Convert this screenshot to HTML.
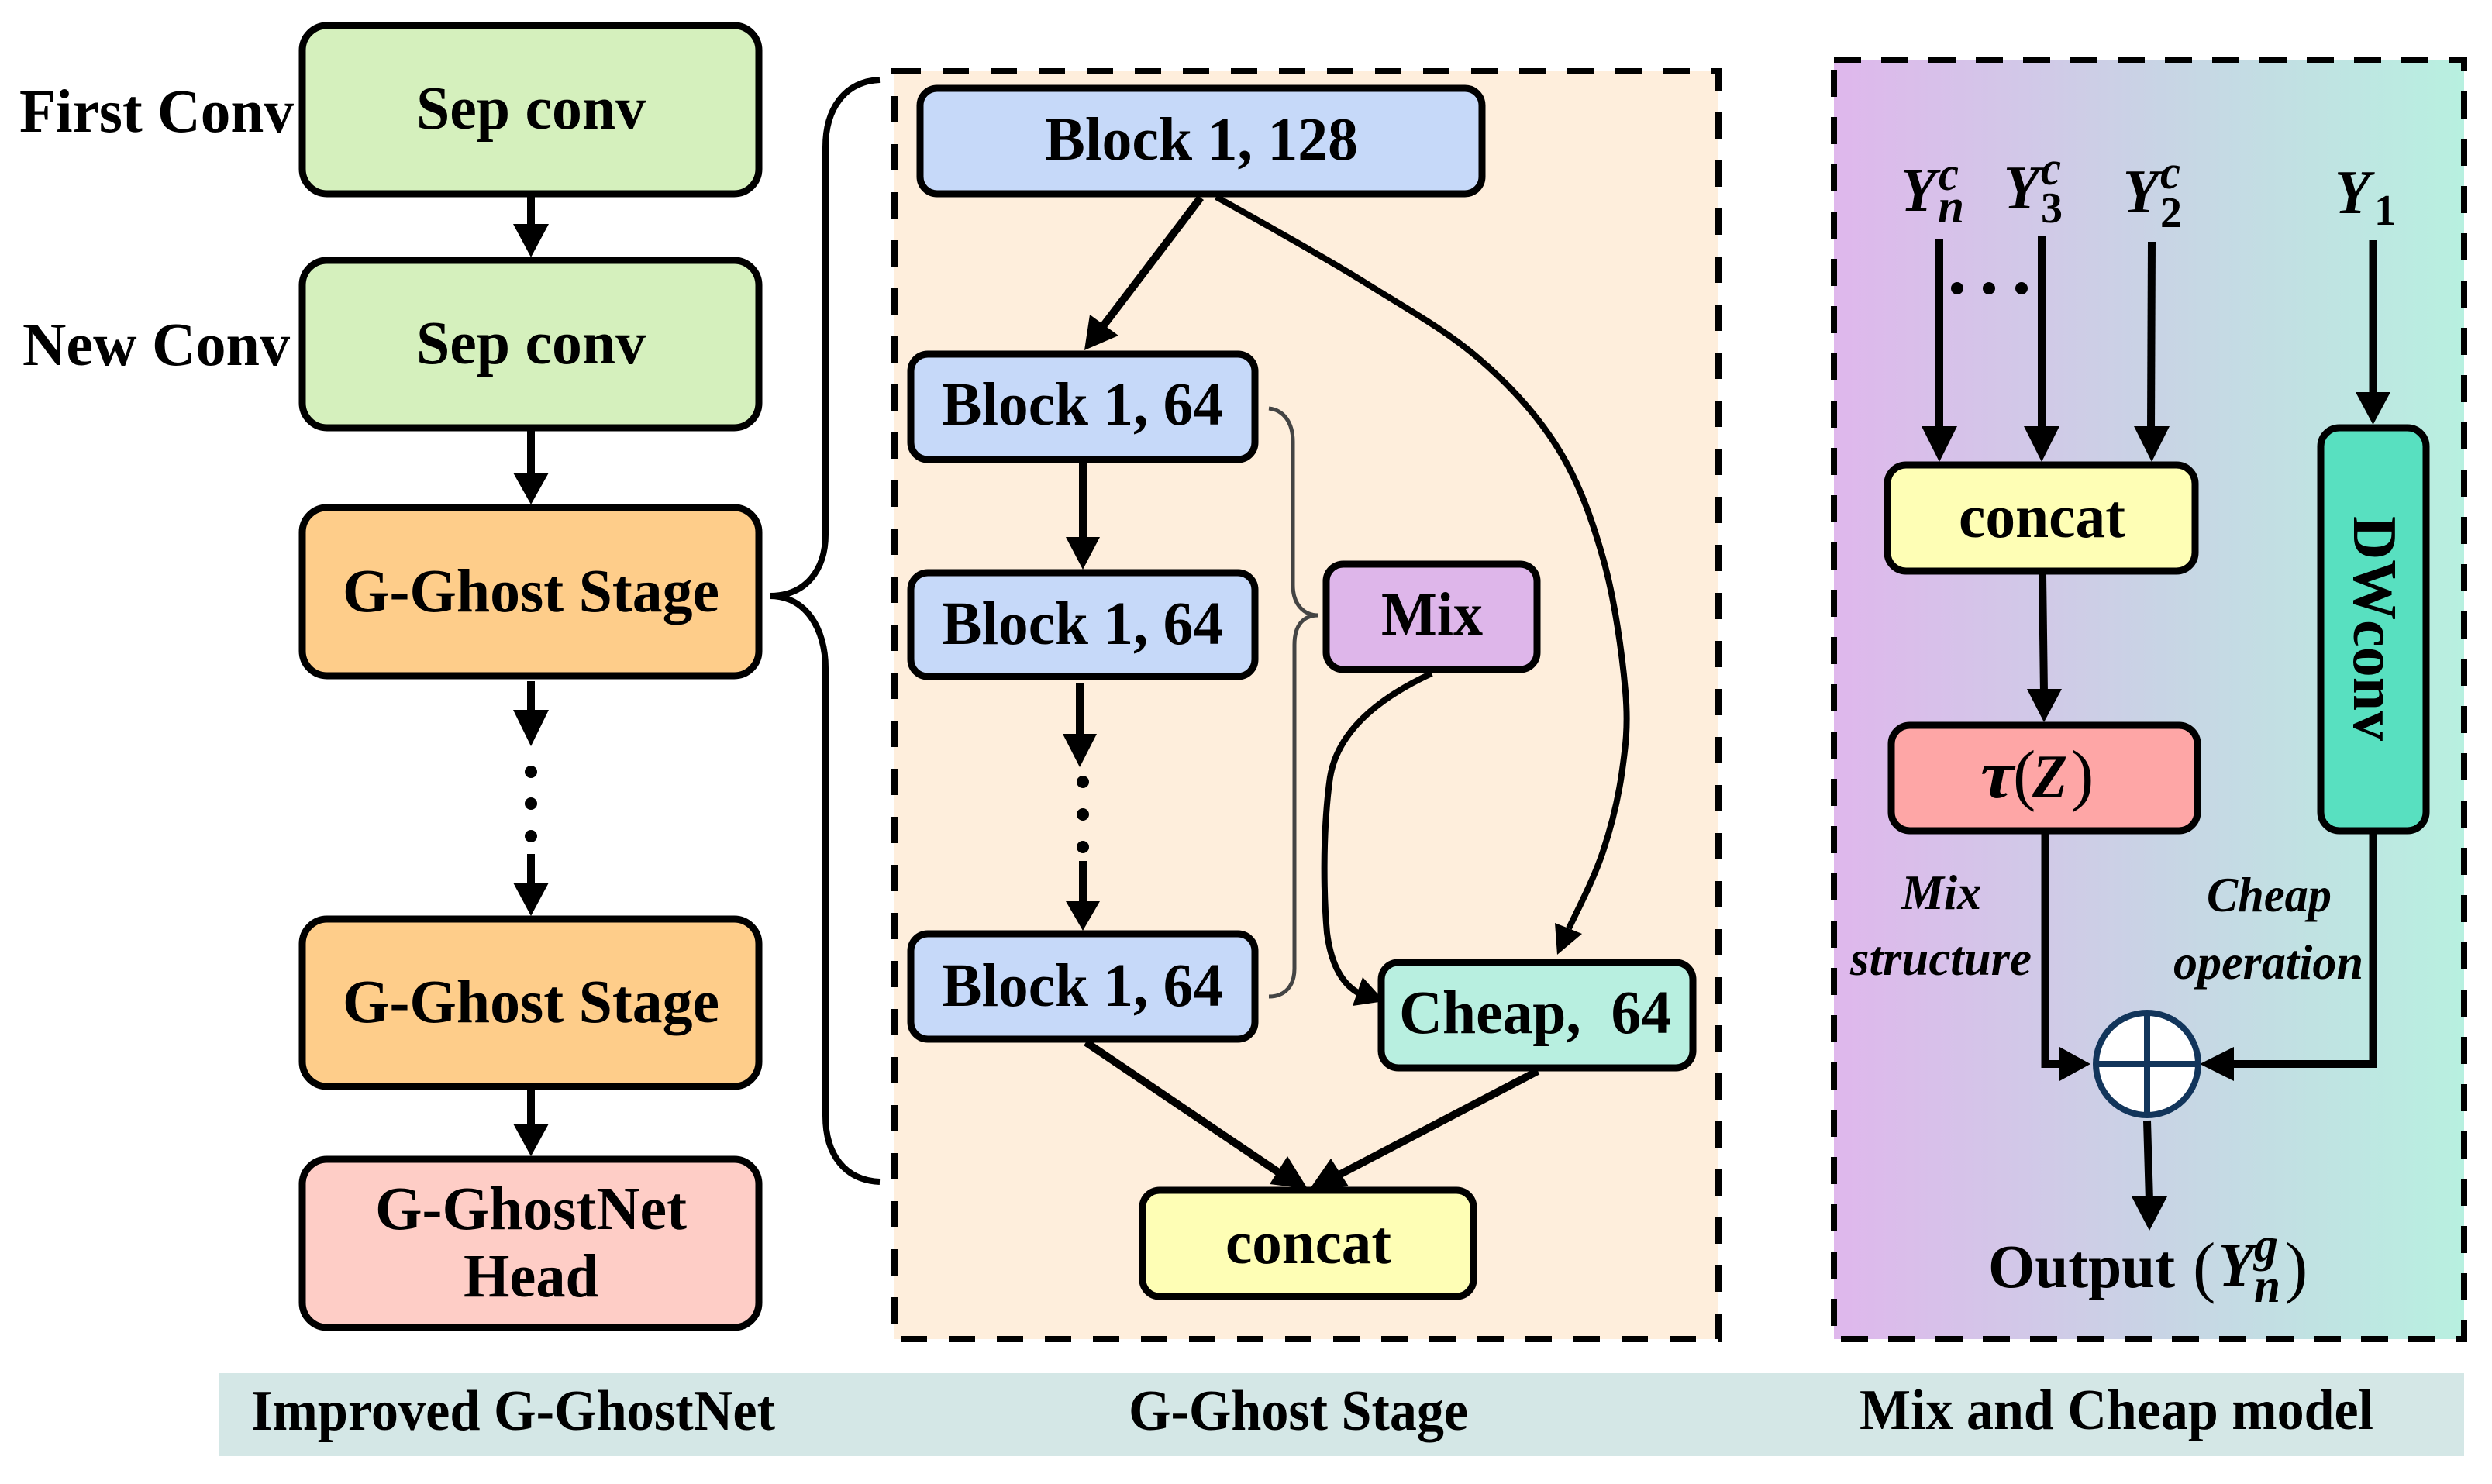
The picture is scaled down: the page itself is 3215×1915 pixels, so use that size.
<!DOCTYPE html>
<html><head><meta charset="utf-8">
<style>
html,body{margin:0;padding:0;background:#fff;width:3215px;height:1915px;overflow:hidden}
svg{display:block}
text{font-family:"Liberation Serif",serif;font-weight:bold;fill:#000}
.it{font-style:italic}
.l{font-weight:normal}
</style></head><body>
<svg width="3215" height="1915" viewBox="0 0 3215 1915" xmlns="http://www.w3.org/2000/svg">
<defs>
<linearGradient id="g" x1="0" x2="1" y1="0" y2="0">
<stop offset="0" stop-color="#dfb7ec"/><stop offset="0.5" stop-color="#c9d3e5"/><stop offset="1" stop-color="#b8f0e0"/>
</linearGradient>
</defs>
<rect width="3215" height="1915" fill="#fff"/>

<!-- banner -->
<rect x="282" y="1772" width="2897" height="107" fill="#d4e7e6"/>
<text x="324" y="1845" font-size="74" textLength="676" lengthAdjust="spacingAndGlyphs">Improved G-GhostNet</text>
<text x="1456" y="1845" font-size="74" textLength="438" lengthAdjust="spacingAndGlyphs">G-Ghost Stage</text>
<text x="2399" y="1844" font-size="74" textLength="663" lengthAdjust="spacingAndGlyphs">Mix and Cheap model</text>

<!-- panels -->
<rect x="1154" y="92" width="1063" height="1636" fill="#feeedc"/>
<rect x="1154" y="92" width="1063" height="1636" fill="none" stroke="#000" stroke-width="8" stroke-dasharray="34 28"/>
<rect x="2366" y="77" width="813" height="1651" fill="url(#g)"/>
<rect x="2366" y="77" width="813" height="1651" fill="none" stroke="#000" stroke-width="8" stroke-dasharray="35 26"/>

<!-- left column boxes -->
<g stroke="#000" stroke-width="9">
<rect x="390" y="33" width="589" height="217" rx="32" fill="#d5f0bd"/>
<rect x="390" y="336" width="589" height="216" rx="32" fill="#d5f0bd"/>
<rect x="390" y="655" width="589" height="217" rx="32" fill="#fecd8a"/>
<rect x="390" y="1186" width="589" height="216" rx="32" fill="#fecd8a"/>
<rect x="390" y="1496" width="589" height="217" rx="32" fill="#fecdc6"/>
</g>
<text x="25" y="170" font-size="79" textLength="354" lengthAdjust="spacingAndGlyphs">First Conv</text>
<text x="29" y="471" font-size="79" textLength="345" lengthAdjust="spacingAndGlyphs">New Conv</text>
<text x="537" y="166" font-size="79" textLength="296" lengthAdjust="spacingAndGlyphs">Sep conv</text>
<text x="537" y="469" font-size="79" textLength="296" lengthAdjust="spacingAndGlyphs">Sep conv</text>
<text x="442" y="789" font-size="79" textLength="486" lengthAdjust="spacingAndGlyphs">G-Ghost Stage</text>
<text x="442" y="1319" font-size="79" textLength="486" lengthAdjust="spacingAndGlyphs">G-Ghost Stage</text>
<text x="484" y="1586" font-size="79" textLength="402" lengthAdjust="spacingAndGlyphs">G-GhostNet</text>
<text x="598" y="1673" font-size="79" textLength="174" lengthAdjust="spacingAndGlyphs">Head</text>

<!-- left column arrows -->
<g stroke="#000" stroke-width="10" fill="none">
<path d="M685 254V295"/><path d="M685 556V615"/><path d="M685 879V920"/><path d="M685 1102V1145"/><path d="M685 1406V1455"/>
</g>
<g fill="#000">
<polygon points="662,289 708,289 685,332"/>
<polygon points="662,610 708,610 685,651"/>
<polygon points="662,916 708,916 685,963"/>
<polygon points="662,1139 708,1139 685,1182"/>
<polygon points="662,1450 708,1450 685,1492"/>
<circle cx="685" cy="996" r="8"/><circle cx="685" cy="1037" r="8"/><circle cx="685" cy="1079" r="8"/>
</g>

<!-- big brace -->
<path d="M1135 103C1090 105 1065 140 1065 190V690C1065 735 1040 769 993 769C1040 769 1065 812 1065 862V1440C1065 1490 1090 1523 1135 1525" fill="none" stroke="#000" stroke-width="8"/>

<!-- middle boxes -->
<g stroke="#000" stroke-width="9">
<rect x="1187" y="114" width="725" height="136" rx="22" fill="#c6d9f9"/>
<rect x="1175" y="457" width="444" height="136" rx="22" fill="#c6d9f9"/>
<rect x="1175" y="739" width="444" height="134" rx="22" fill="#c6d9f9"/>
<rect x="1175" y="1205" width="444" height="136" rx="22" fill="#c6d9f9"/>
<rect x="1711" y="728" width="272" height="136" rx="22" fill="#deb6ea"/>
<rect x="1782" y="1242" width="402" height="136" rx="22" fill="#b8efe0"/>
<rect x="1474" y="1536" width="427" height="137" rx="22" fill="#fefeb5"/>
</g>
<text x="1348" y="206" font-size="79" textLength="404" lengthAdjust="spacingAndGlyphs">Block 1, 128</text>
<text x="1215" y="548" font-size="79" textLength="363" lengthAdjust="spacingAndGlyphs">Block 1, 64</text>
<text x="1215" y="831" font-size="79" textLength="363" lengthAdjust="spacingAndGlyphs">Block 1, 64</text>
<text x="1215" y="1298" font-size="79" textLength="363" lengthAdjust="spacingAndGlyphs">Block 1, 64</text>
<text x="1782" y="819" font-size="79" textLength="131" lengthAdjust="spacingAndGlyphs">Mix</text>
<text x="1805" y="1333" font-size="79" xml:space="preserve" textLength="351" lengthAdjust="spacingAndGlyphs">Cheap,  64</text>
<text x="1581" y="1630" font-size="79" textLength="214" lengthAdjust="spacingAndGlyphs">concat</text>

<!-- middle connectors -->
<path d="M1637 527C1656 529 1668 545 1668 570V755C1668 780 1682 794 1701 794C1682 794 1670 806 1670 832V1250C1670 1272 1658 1286 1637 1286" fill="none" stroke="#444" stroke-width="5"/>
<g fill="none" stroke="#000">
<path d="M1549 255L1420 425" stroke-width="10"/>
<path d="M1397 597V700" stroke-width="10"/>
<path d="M1393 882V952" stroke-width="10"/>
<path d="M1397 1111V1170" stroke-width="10"/>
<path d="M1401 1345L1660 1520" stroke-width="10"/>
<path d="M1984 1382L1720 1520" stroke-width="10"/>
<path d="M1569 254C1601 272 1704 329 1760 364C1816 399 1865 426 1907 462C1948 497 1982 534 2009 577C2036 620 2053 667 2068 720C2083 772 2093 845 2097 892C2101 938 2097 965 2092 1000C2087 1034 2079 1066 2068 1099C2057 1132 2040 1165 2024 1198" stroke-width="8"/>
<path d="M1847 869C1780 900 1722 945 1715 1010C1706 1080 1708 1160 1712 1204C1718 1250 1735 1275 1760 1285" stroke-width="8"/>
</g>
<g fill="#000">
<polygon points="1399,452 1406,406 1443,433"/>
<polygon points="1375,693 1419,693 1397,735"/>
<polygon points="1371,947 1415,947 1393,990"/>
<polygon points="1375,1163 1419,1163 1397,1201"/>
<polygon points="1687,1534 1661,1492 1638,1528"/>
<polygon points="1690,1534 1717,1495 1740,1531"/>
<polygon points="2009,1232 2006,1191 2041,1205"/>
<polygon points="1786,1292 1758,1261 1745,1298"/>
<circle cx="1397" cy="1009" r="8"/><circle cx="1397" cy="1051" r="8"/><circle cx="1397" cy="1093" r="8"/>
</g>

<!-- right boxes -->
<g stroke="#000" stroke-width="9">
<rect x="2435" y="600" width="397" height="137" rx="24" fill="#fefeb5"/>
<rect x="2440" y="936" width="395" height="136" rx="24" fill="#fea6a6"/>
<rect x="2994" y="552" width="136" height="520" rx="24" fill="#58e0c0"/>
</g>
<text x="2527" y="693" font-size="79" textLength="215" lengthAdjust="spacingAndGlyphs">concat</text>
<text x="2555" y="1029" font-size="88" class="it" textLength="43" lengthAdjust="spacingAndGlyphs">τ</text>
<text x="2597" y="1029" font-size="88" class="l">(</text>
<text x="2622" y="1029" font-size="80" class="it" textLength="45" lengthAdjust="spacingAndGlyphs">Z</text>
<text x="2672" y="1029" font-size="88" class="l">)</text>
<text transform="translate(3037 666) rotate(90)" font-size="80" textLength="290" lengthAdjust="spacingAndGlyphs">DWconv</text>

<!-- math labels -->
<text x="2452" y="272" font-size="80" class="it" textLength="46" lengthAdjust="spacingAndGlyphs">Y</text>
<text x="2501" y="245" font-size="62" class="it" textLength="26" lengthAdjust="spacingAndGlyphs">c</text>
<text x="2500" y="287" font-size="62" class="it" textLength="34" lengthAdjust="spacingAndGlyphs">n</text>
<text x="2585" y="269" font-size="80" class="it" textLength="46" lengthAdjust="spacingAndGlyphs">Y</text>
<text x="2633" y="238" font-size="62" class="it" textLength="26" lengthAdjust="spacingAndGlyphs">c</text>
<text x="2633" y="287" font-size="56">3</text>
<text x="2739" y="274" font-size="80" class="it" textLength="46" lengthAdjust="spacingAndGlyphs">Y</text>
<text x="2787" y="243" font-size="62" class="it" textLength="26" lengthAdjust="spacingAndGlyphs">c</text>
<text x="2787" y="293" font-size="56">2</text>
<text x="3012" y="275" font-size="80" class="it" textLength="46" lengthAdjust="spacingAndGlyphs">Y</text>
<text x="3063" y="290" font-size="56">1</text>

<!-- right arrows -->
<g stroke="#000" stroke-width="10" fill="none">
<path d="M2502 309V555"/><path d="M2634 304V555"/><path d="M2776 312L2775 555"/><path d="M3061.5 310V512"/>
<path d="M2635 741L2637 895"/>
<path d="M2638.5 1076V1373H2665"/><path d="M3061.5 1076V1373H2875"/>
<path d="M2770 1446L2773 1550"/>
</g>
<g fill="#000">
<polygon points="2479,550 2525,550 2502,596"/>
<polygon points="2611,550 2657,550 2634,596"/>
<polygon points="2753,550 2799,550 2776,596"/>
<polygon points="3039,506 3084,506 3061.5,548"/>
<polygon points="2615,889 2660,889 2637,932"/>
<polygon points="2657,1351 2657,1395 2697,1373"/>
<polygon points="2882,1351 2882,1395 2838,1373"/>
<polygon points="2750,1544 2796,1544 2773,1588"/>
<circle cx="2525" cy="372" r="8"/><circle cx="2566" cy="372" r="8"/><circle cx="2608" cy="372" r="8"/>
</g>
<circle cx="2770" cy="1373" r="66" fill="#fff" stroke="#12355b" stroke-width="8"/>
<path d="M2770 1307V1439M2704 1373H2836" stroke="#12355b" stroke-width="8" fill="none"/>

<text x="2453" y="1173" font-size="63" class="it" textLength="103" lengthAdjust="spacingAndGlyphs">Mix</text>
<text x="2387" y="1258" font-size="63" class="it" textLength="234" lengthAdjust="spacingAndGlyphs">structure</text>
<text x="2847" y="1176" font-size="63" class="it" textLength="161" lengthAdjust="spacingAndGlyphs">Cheap</text>
<text x="2804" y="1263" font-size="63" class="it" textLength="245" lengthAdjust="spacingAndGlyphs">operation</text>

<text x="2565" y="1661" font-size="79" textLength="241" lengthAdjust="spacingAndGlyphs">Output</text>
<text x="2829" y="1664" font-size="88" class="l">(</text>
<text x="2862" y="1659" font-size="80" class="it" textLength="46" lengthAdjust="spacingAndGlyphs">Y</text>
<text x="2908" y="1627" font-size="62" class="it" textLength="31" lengthAdjust="spacingAndGlyphs">g</text>
<text x="2908" y="1680" font-size="62" class="it" textLength="34" lengthAdjust="spacingAndGlyphs">n</text>
<text x="2948" y="1664" font-size="88" class="l">)</text>
</svg>
</body></html>
